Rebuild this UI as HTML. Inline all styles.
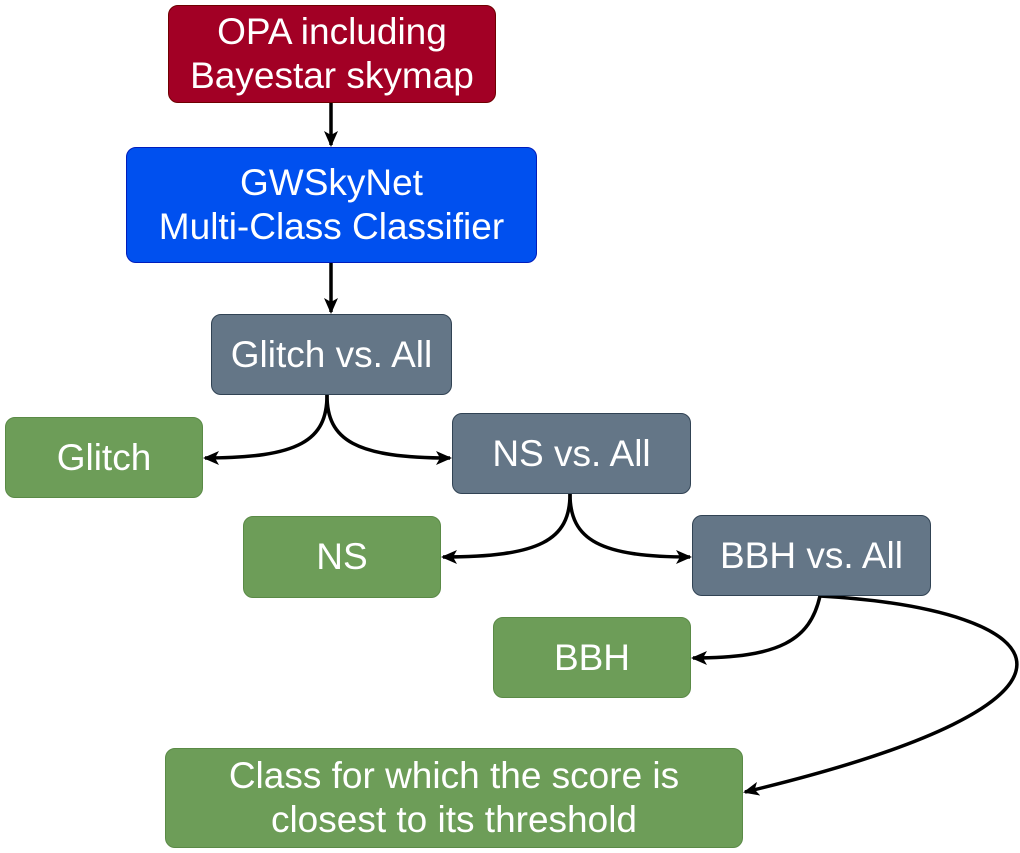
<!DOCTYPE html>
<html><head><style>
body{margin:0;width:1020px;height:853px;background:#fff;position:relative;overflow:hidden;font-family:"Liberation Sans",sans-serif}
.b{position:absolute;box-sizing:border-box;border-radius:10px;color:#fff;display:flex;align-items:center;justify-content:center;text-align:center;font-size:37px;line-height:44px;border:1.5px solid}
.r{background:#a20025;border-color:#6f0000}
.u{background:#0050ef;border-color:#001dbc}
.g{background:#647687;border-color:#314354}
.n{background:#6d9d58;border-color:#5a8a46}
svg{position:absolute;left:0;top:0}
</style></head><body>
<svg width="1020" height="853" fill="none" stroke="#000" stroke-width="3.5">
<defs><marker id="a" markerWidth="16" markerHeight="14" refX="14" refY="7" orient="auto" markerUnits="userSpaceOnUse"><path d="M0,0L16,7L0,14L4,7z" fill="#000" stroke="none"/></marker></defs>
<path d="M331,103V145" marker-end="url(#a)"/>
<path d="M331,263V312" marker-end="url(#a)"/>
<path d="M327,395C327,440 300,458 205,458" marker-end="url(#a)"/>
<path d="M327,395C327,440 355,458 450,458" marker-end="url(#a)"/>
<path d="M570,494C570,540 540,557 443,557" marker-end="url(#a)"/>
<path d="M570,494C570,540 600,557 690,557" marker-end="url(#a)"/>
<path d="M820,596C810,640 780,658 693,658" marker-end="url(#a)"/>
<path d="M820,596C1060,610 1130,700 745,792" marker-end="url(#a)"/>
</svg>
<div class="b r" style="left:168px;top:5px;width:328px;height:98px">OPA including<br>Bayestar skymap</div>
<div class="b u" style="left:126px;top:147px;width:411px;height:116px">GWSkyNet<br>Multi-Class Classifier</div>
<div class="b g" style="left:211px;top:314px;width:241px;height:81px">Glitch vs. All</div>
<div class="b n" style="left:5px;top:417px;width:198px;height:81px">Glitch</div>
<div class="b g" style="left:452px;top:413px;width:239px;height:81px">NS vs. All</div>
<div class="b n" style="left:243px;top:516px;width:198px;height:82px">NS</div>
<div class="b g" style="left:692px;top:515px;width:239px;height:81px">BBH vs. All</div>
<div class="b n" style="left:493px;top:617px;width:198px;height:81px">BBH</div>
<div class="b n" style="left:165px;top:748px;width:578px;height:100px">Class for which the score is<br>closest to its threshold</div>
</body></html>
